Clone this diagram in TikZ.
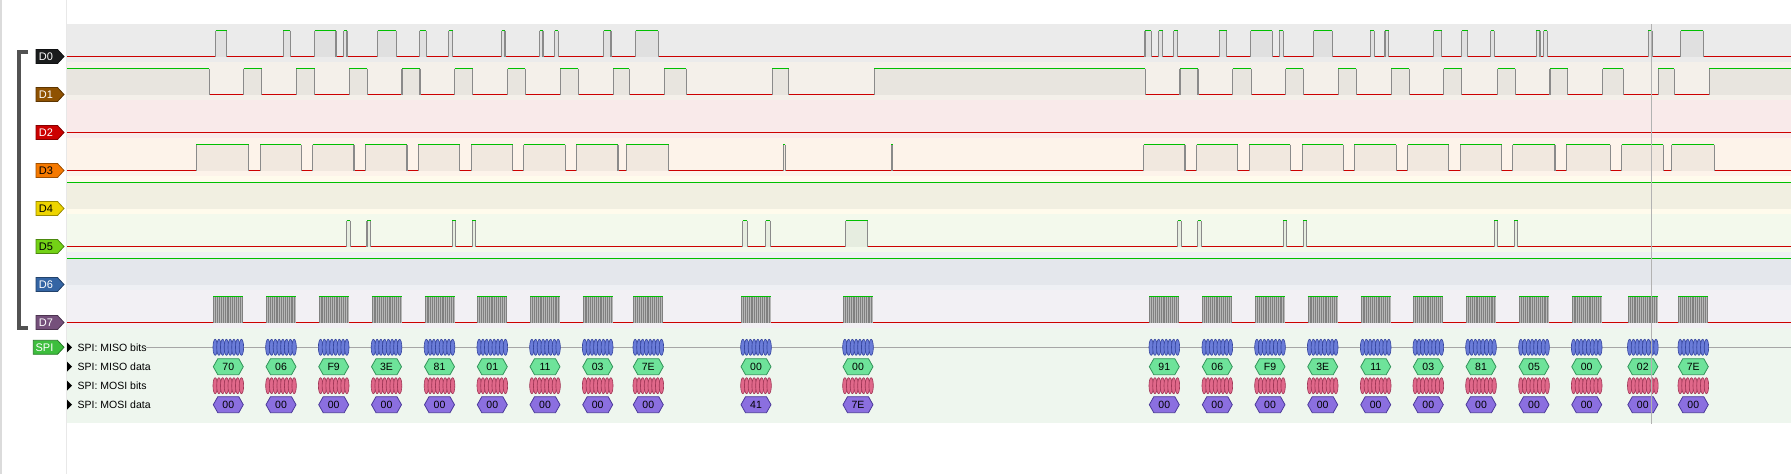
\documentclass[tikz,border=0pt]{standalone}
\usepackage{fontspec}
\setmainfont{Liberation Sans}
\definecolor{lowred}{HTML}{CC0000}
\definecolor{higreen}{HTML}{00C000}
\definecolor{edgegray}{HTML}{8A8A8A}
\definecolor{bg0}{HTML}{EBEBEB}\definecolor{fi0}{HTML}{E0E0E0}
\definecolor{bg1}{HTML}{F4F0EA}\definecolor{fi1}{HTML}{E8E5DF}
\definecolor{bg2}{HTML}{F9EAEA}
\definecolor{bg3}{HTML}{FDF3EA}\definecolor{fi3}{HTML}{F1E8DF}
\definecolor{bg4}{HTML}{FFFBEC}\definecolor{fi4}{HTML}{F1EFE1}
\definecolor{bg5}{HTML}{F3F9EC}\definecolor{fi5}{HTML}{E6EDE0}
\definecolor{bg6}{HTML}{EEF0F4}\definecolor{fi6}{HTML}{E4E7EC}
\definecolor{bg7}{HTML}{F2F0F4}
\definecolor{bgspi}{HTML}{EEF6EE}
\definecolor{lc0}{HTML}{1A1C1D}
\definecolor{lc1}{HTML}{8F5202}
\definecolor{lc2}{HTML}{CC0000}
\definecolor{lc3}{HTML}{F57900}
\definecolor{lc4}{HTML}{EDD400}
\definecolor{lc5}{HTML}{73D216}
\definecolor{lc6}{HTML}{3465A4}
\definecolor{lc7}{HTML}{75507B}
\definecolor{lcspi}{HTML}{3DBE3D}
\definecolor{misob}{HTML}{6A7CD8}\definecolor{misobd}{HTML}{34449E}
\definecolor{mosib}{HTML}{E0688A}\definecolor{mosibd}{HTML}{A03656}
\definecolor{misod}{HTML}{6EE39A}\definecolor{misodd}{HTML}{33945A}
\definecolor{mosid}{HTML}{8B6FE0}\definecolor{mosidd}{HTML}{4B3A9A}
\tikzset{
  lowln/.style={draw=lowred, line width=1.3},
  hiln/.style={draw=higreen, line width=1.3},
  edgeln/.style={draw=edgegray, line width=1.1},
  burstfill/.style={fill=black!28},
  burstedge/.style={draw=black!50, line width=0.8},
  misobit/.style={fill=misob, draw=misobd, line width=0.6},
  mosibit/.style={fill=mosib, draw=mosibd, line width=0.6},
  misodata/.style={fill=misod, draw=misodd, line width=0.8},
  mosidata/.style={fill=mosid, draw=mosidd, line width=0.8},
  hexlbl/.style={font=\fontsize{10.5}{12}\selectfont, inner sep=0pt, text=black},
  rowlbl/.style={font=\fontsize{10.5}{12}\selectfont, inner sep=0pt, anchor=west, text=black},
  chlbl/.style={font=\fontsize{11}{12}\selectfont, inner sep=0pt},
}
\newcommand\dtrace[4]{%
  \draw[lowln] (66,#2) -- (1791,#2);
  \foreach \a/\b in {#4}{%
    \fill[#3] (\a,#1) rectangle (\b,#2+0.9);
    \draw[edgeln] (\a,#1) -- (\a,#2) (\b,#1) -- (\b,#2);
    \draw[hiln] (\a,#1) -- (\b,#1);
  }%
}
\newcommand\chlabel[5]{%
  \draw[fill=#2, draw=#2!65!black, line width=0.8] (36,#1-7) -- (57.5,#1-7) -- (64,#1) -- (57.5,#1+7) -- (36,#1+7) -- cycle;
  \node[chlbl, text=#3] (#5) at (46,#1) {#4};
}
\newcommand\grp[4]{%
  \fill[burstfill] (#1,296.5) rectangle (#1+30,323);
  \foreach \k in {0,...,7}{%
    \draw[burstedge] (#1+\k*3.75+0.4,296.5) -- (#1+\k*3.75+0.4,322.5);
    \draw[burstedge] (#1+\k*3.75+2.4,296.5) -- (#1+\k*3.75+2.4,322.5);
  }%
  \draw[hiln] (#1,296.5) -- (#1+30,296.5);
  \foreach \k in {0,...,7}{%
    \draw[misobit] (#1+\k*3.75+1.875,347.3) ellipse [x radius=2.2, y radius=8];
    \draw[mosibit] (#1+\k*3.75+1.875,385.7) ellipse [x radius=2.2, y radius=8];
  }%
  \draw[misodata] (#1,366.7) -- (#1+4.5,358.7) -- (#1+25.5,358.7) -- (#1+30,366.7) -- (#1+25.5,374.7) -- (#1+4.5,374.7) -- cycle;
  \node[hexlbl] (mi#4) at (#1+15,366.9) {#2};
  \draw[mosidata] (#1,404.7) -- (#1+4.5,396.7) -- (#1+25.5,396.7) -- (#1+30,404.7) -- (#1+25.5,412.7) -- (#1+4.5,412.7) -- cycle;
  \node[hexlbl] (mo#4) at (#1+15,404.9) {#3};
}
\begin{document}
\begin{tikzpicture}[x=1pt,y=-1pt]
\useasboundingbox (0,0) rectangle (1791,474);
\fill[white] (0,0) rectangle (1791,474);
% left border
\fill[black!14] (0,0) rectangle (1.7,474);
% row backgrounds
\fill[bg0] (66,24) rectangle (1791,62);
\fill[bg1] (66,62) rectangle (1791,100);
\fill[bg2] (66,100) rectangle (1791,138);
\fill[bg3] (66,138) rectangle (1791,176);
\fill[bg4] (66,176) rectangle (1791,214);
\fill[fi4] (66,182.5) rectangle (1791,208.5);
\fill[bg5] (66,214) rectangle (1791,252);
\fill[bg6] (66,252) rectangle (1791,290);
\fill[fi6] (66,258.5) rectangle (1791,284.5);
\fill[bg7] (66,290) rectangle (1791,328);
\fill[bgspi] (66,328) rectangle (1791,423);
% D0
\dtrace{30.5}{56.5}{fi0}{215.7/226.7, 283.3/290.3, 314.7/336, 343.7/347, 377.7/396.3, 419.7/426.3, 448.7/452.7, 501.7/505, 539.7/543, 554.7/558.3, 603.7/611, 635.7/658.3, 1145/1151.4, 1158.6/1162.9, 1173.9/1177.9, 1219.3/1226.8, 1250.7/1272.1, 1279.3/1283.2, 1313.6/1332.1, 1370.4/1374.3, 1385/1388.9, 1433.9/1441.8, 1461.8/1467.9, 1490.7/1494.3, 1536.4/1540, 1543.6/1547.1, 1648.4/1652.2, 1680.5/1703.3}
% D1
\dtrace{68.5}{94.5}{fi1}{243.7/261.7, 296.3/314.7, 349.3/367.3, 402/420, 454.7/472.7, 507.7/525.3, 560.3/578.3, 613.3/629.3, 664.3/686.4, 772.1/788.9, 874.3/1145.4, 1180/1198, 1232.9/1251.1, 1285.7/1303.2, 1338.2/1356.4, 1391.4/1409.3, 1443.9/1461.8, 1497.5/1515.4, 1550/1567.9, 1602.8/1623.3, 1658.3/1674.3, 1709.3/1792}
\fill[fi1] (66,68.5) rectangle (209.3,95.4);
\draw[edgeln] (209.3,68.5) -- (209.3,94.5);
\draw[hiln] (66,68.5) -- (209.3,68.5);
% D2
\draw[lowln] (66,132.5) -- (1791,132.5);
% D3
\dtrace{144.5}{170.5}{fi3}{196.3/248.7, 260.3/301.3, 312.7/354, 365.3/407, 418.3/459.7, 471.3/512.7, 523.7/565.3, 576.3/618, 626.3/668.8, 783.2/785.4, 891.4/892.9, 1143.9/1185, 1196.6/1237.5, 1249.3/1290.4, 1302.1/1343.2, 1354.3/1396.4, 1407.5/1448.6, 1460.4/1501.8, 1512.9/1555, 1566.4/1610.2, 1621.7/1663.3, 1671.5/1714.3}
% D4
\draw[hiln] (66,182.5) -- (1791,182.5);
% D5
\dtrace{220.5}{246.5}{fi5}{346.7/350.3, 367/370.7, 452.3/455.7, 472.3/475.7, 742.9/747.1, 765.7/770.4, 845.7/867.9, 1177.5/1181.1, 1197.5/1201.4, 1283.2/1286.8, 1303.2/1306.8, 1494.3/1497.5, 1514.3/1517.9}
% D6
\draw[hiln] (66,258.5) -- (1791,258.5);
% D7 low line and SPI guide line
\draw[lowln] (66,322.5) -- (1791,322.5);
\draw[black!35, line width=1] (146,347.3) -- (1791,347.3);
% groups
\grp{213.3}{70}{00}{1}
\grp{266}{06}{00}{2}
\grp{318.7}{F9}{00}{3}
\grp{371.5}{3E}{00}{4}
\grp{424.5}{81}{00}{5}
\grp{477.3}{01}{00}{6}
\grp{530}{11}{00}{7}
\grp{582.7}{03}{00}{8}
\grp{633.3}{7E}{00}{9}
\grp{741}{00}{41}{10}
\grp{843}{00}{7E}{11}
\grp{1149.3}{91}{00}{12}
\grp{1202.3}{06}{00}{13}
\grp{1255}{F9}{00}{14}
\grp{1307.7}{3E}{00}{15}
\grp{1360.7}{11}{00}{16}
\grp{1413.3}{03}{00}{17}
\grp{1466}{81}{00}{18}
\grp{1519}{05}{00}{19}
\grp{1571.7}{00}{00}{20}
\grp{1627.8}{02}{00}{21}
\grp{1678.3}{7E}{00}{22}
% cursor
\draw[black!30, line width=1] (1651.3,24) -- (1651.3,424);
% panel divider
\draw[black!9, line width=1] (66,0) -- (66,474);
% bracket
\draw[line width=4, draw=black!68, line cap=butt, line join=miter] (28,51.5) -- (18.7,51.5) -- (18.7,327.5) -- (28,327.5);
% channel labels
\chlabel{56.5}{lc0}{white}{D0}{l0}
\chlabel{94.5}{lc1}{white}{D1}{l1}
\chlabel{132.5}{lc2}{white}{D2}{l2}
\chlabel{170.5}{lc3}{black}{D3}{l3}
\chlabel{208.5}{lc4}{black}{D4}{l4}
\chlabel{246.5}{lc5}{black}{D5}{l5}
\chlabel{284.5}{lc6}{white}{D6}{l6}
\chlabel{322.5}{lc7}{white}{D7}{l7}
\draw[fill=lcspi, draw=lcspi!65!black, line width=0.8] (33.3,340.3) -- (57.5,340.3) -- (64,347.3) -- (57.5,354.3) -- (33.3,354.3) -- cycle;
\node[chlbl, text=white] (lspi) at (44.5,347.3) {SPI};
% SPI row labels
\foreach \yy in {347.3, 366.7, 385.7, 404.7}{
  \fill[black] (67,\yy-5) -- (72,\yy) -- (67,\yy+5) -- cycle;
}
\node[rowlbl] (r1) at (77.5,347.3) {SPI: MISO bits};
\node[rowlbl] (r2) at (77.5,366.7) {SPI: MISO data};
\node[rowlbl] (r3) at (77.5,385.7) {SPI: MOSI bits};
\node[rowlbl] (r4) at (77.5,404.7) {SPI: MOSI data};
\end{tikzpicture}
\end{document}
